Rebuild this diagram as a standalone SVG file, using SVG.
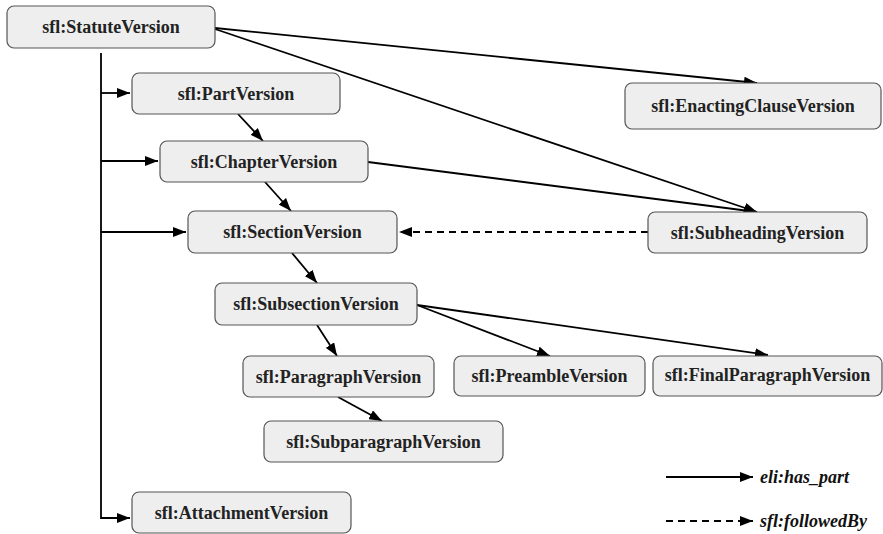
<svg xmlns="http://www.w3.org/2000/svg" width="883" height="534" viewBox="0 0 883 534">
<style>
.node rect{fill:#eeeeee;stroke:#555555;stroke-width:1.2}
.node text{font-family:"Liberation Serif","Times New Roman",serif;font-weight:bold;font-size:18px;fill:#222222;text-anchor:middle}
.edge{fill:none;stroke:#000;stroke-width:1.8}
.dash{stroke-dasharray:7 5}
.legend text{font-family:"Liberation Serif","Times New Roman",serif;font-weight:bold;font-style:italic;font-size:18px;fill:#111}
</style>
<defs>
<marker id="arr" markerUnits="userSpaceOnUse" markerWidth="14" markerHeight="10" refX="13" refY="5" orient="auto">
<path d="M0,0 L13,5 L0,10 Z" fill="#000"/>
</marker>
</defs>
<rect width="883" height="534" fill="#ffffff"/>
<g id="connectors">
<path class="edge" d="M101 53 V518 H130" marker-end="url(#arr)"/>
<path class="edge" d="M101 93 H130" marker-end="url(#arr)"/>
<path class="edge" d="M101 161 H158" marker-end="url(#arr)"/>
<path class="edge" d="M101 232 H186" marker-end="url(#arr)"/>
<path class="edge" d="M238 114 L263 141" marker-end="url(#arr)"/>
<path class="edge" d="M265 182 L291 211" marker-end="url(#arr)"/>
<path class="edge" d="M292 253 L317 283" marker-end="url(#arr)"/>
<path class="edge" d="M317 325 L337 356" marker-end="url(#arr)"/>
<path class="edge" d="M338 397 L382 421" marker-end="url(#arr)"/>
<path class="edge" d="M215 28 L757 83" marker-end="url(#arr)"/>
<path class="edge" d="M215 29 L757 212" marker-end="url(#arr)"/>
<path class="edge" d="M368 162 L757 212" marker-end="url(#arr)"/>
<path class="edge" d="M417 305 L550 356" marker-end="url(#arr)"/>
<path class="edge" d="M417 305 L768 355" marker-end="url(#arr)"/>
<path class="edge dash" d="M648 232 L399 232" marker-end="url(#arr)"/>
</g>
<g id="n-statute" class="node"><rect x="7" y="6" width="208" height="42" rx="7"/><text x="111" y="33">sfl:StatuteVersion</text></g>
<g id="n-part" class="node"><rect x="132" y="73" width="208" height="41" rx="7"/><text x="236" y="100">sfl:PartVersion</text></g>
<g id="n-chapter" class="node"><rect x="160" y="141" width="208" height="41" rx="7"/><text x="264" y="168">sfl:ChapterVersion</text></g>
<g id="n-section" class="node"><rect x="188" y="211" width="209" height="42" rx="7"/><text x="292.5" y="238">sfl:SectionVersion</text></g>
<g id="n-enacting" class="node"><rect x="625" y="83" width="256" height="46" rx="7"/><text x="753" y="112">sfl:EnactingClauseVersion</text></g>
<g id="n-subheading" class="node"><rect x="648" y="212" width="219" height="41" rx="7"/><text x="757.5" y="239">sfl:SubheadingVersion</text></g>
<g id="n-subsection" class="node"><rect x="215" y="283" width="202" height="42" rx="7"/><text x="316" y="310">sfl:SubsectionVersion</text></g>
<g id="n-paragraph" class="node"><rect x="243" y="356" width="191" height="41" rx="7"/><text x="338.5" y="383">sfl:ParagraphVersion</text></g>
<g id="n-preamble" class="node"><rect x="454" y="356" width="191" height="40" rx="7"/><text x="549.5" y="382">sfl:PreambleVersion</text></g>
<g id="n-finalparagraph" class="node"><rect x="653" y="356" width="229" height="40" rx="7"/><text x="767.5" y="381">sfl:FinalParagraphVersion</text></g>
<g id="n-subparagraph" class="node"><rect x="264" y="421" width="239" height="41" rx="7"/><text x="383.5" y="448">sfl:SubparagraphVersion</text></g>
<g id="n-attachment" class="node"><rect x="132" y="492" width="219" height="41" rx="7"/><text x="241.5" y="519">sfl:AttachmentVersion</text></g>
<g id="legend" class="legend">
<path class="edge" d="M666 477 L753 477" marker-end="url(#arr)"/>
<path class="edge dash" d="M666 521 L753 521" marker-end="url(#arr)"/>
<text x="760" y="483">eli:has_part</text>
<text x="760" y="527">sfl:followedBy</text>
</g>
</svg>
